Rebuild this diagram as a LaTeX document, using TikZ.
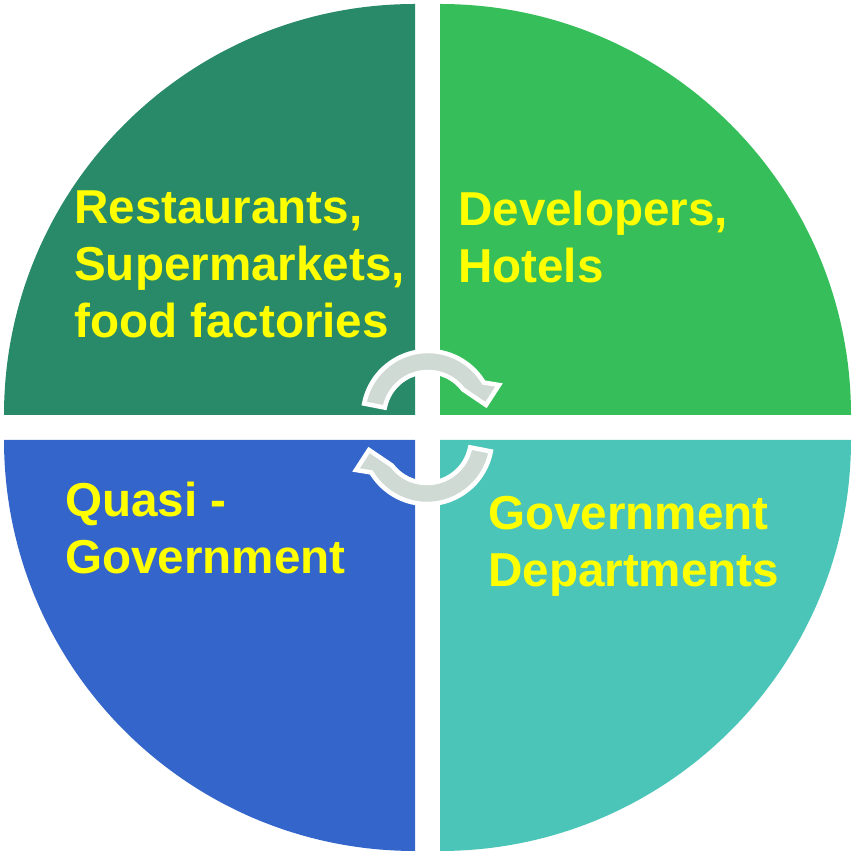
\documentclass[tikz,border=0pt]{standalone}
\usepackage{fontspec}
\setmainfont{Liberation Sans}
\definecolor{qtl}{HTML}{288A68}
\definecolor{qtr}{HTML}{35BE59}
\definecolor{qbl}{HTML}{3465CA}
\definecolor{qbr}{HTML}{4CC5B9}
\definecolor{arrowgray}{HTML}{D0DAD4}
\definecolor{txtyellow}{HTML}{FFFF00}
\tikzset{
  quarter/.style={draw=none},
  label/.style={anchor=base west, inner sep=0pt, text=txtyellow,
    font=\fontsize{47.6}{57}\selectfont\bfseries},
  cycarrow/.style={fill=arrowgray, draw=white, line width=4.5pt, line join=miter}
}
\newcommand{\blocktext}[1]{\begin{tabular}[t]{@{}l@{}}#1\end{tabular}}
\begin{document}
\begin{tikzpicture}[x=1pt,y=1pt]
\useasboundingbox (0,0) rectangle (854,851);
% quarters
\fill[qtl] (415,436) -- ++(-411,0) arc[start angle=180,end angle=90,radius=411] -- cycle;
\fill[qtr] (440,436) -- ++(0,411) arc[start angle=90,end angle=0,radius=411] -- cycle;
\fill[qbl] (415,411) -- ++(0,-411) arc[start angle=270,end angle=180,radius=411] -- cycle;
\fill[qbr] (440,411) -- ++(411,0) arc[start angle=0,end angle=-90,radius=411] -- cycle;
% texts
\node[label] (tl) at (74,627) {\blocktext{Restaurants,\\Supermarkets,\\food factories}};
\node[label] (tr) at (458,625) {\blocktext{Developers,\\Hotels}};
\node[label] (bl) at (65,334) {\blocktext{Quasi -\\Government}};
\node[label] (br) at (488,321) {\blocktext{Government\\Departments}};
% arrows
\begin{scope}[shift={(428,435)}]
  \path[cycarrow] (169:65) arc[start angle=169,end angle=31,radius=65]
    -- (71,31) -- (58,11) -- (37:44)
    arc[start angle=37,end angle=169,radius=44] -- cycle;
\end{scope}
\begin{scope}[shift={(427,412)},rotate=180]
  \path[cycarrow] (169:65) arc[start angle=169,end angle=31,radius=65]
    -- (71,31) -- (58,11) -- (37:44)
    arc[start angle=37,end angle=169,radius=44] -- cycle;
\end{scope}
\end{tikzpicture}
\end{document}
